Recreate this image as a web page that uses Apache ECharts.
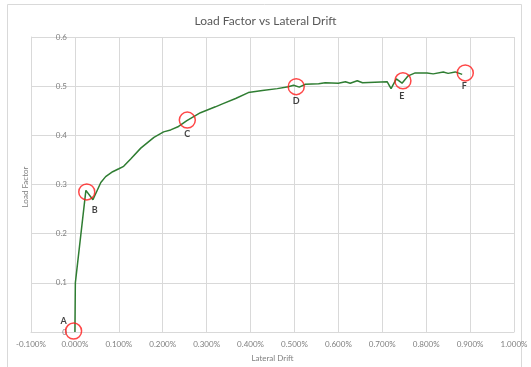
<!DOCTYPE html>
<html>
<head>
<meta charset="utf-8">
<script src="https://cdn.jsdelivr.net/npm/echarts@6/dist/echarts.min.js"></script>
<style>
  html, body { margin: 0; padding: 0; background: #ffffff; }
  #chart { width: 531px; height: 367px; }
</style>
</head>
<body>
<div id="chart"></div>
<script>
// Pushover response: lateral drift (%) against load factor
const drift = [0, 0.001, 0.025, 0.041, 0.059, 0.070, 0.086, 0.100, 0.111, 0.127, 0.150, 0.180,
  0.202, 0.218, 0.236, 0.255, 0.286, 0.320, 0.336, 0.366, 0.395, 0.427, 0.461, 0.486, 0.498,
  0.511, 0.525, 0.555, 0.570, 0.600, 0.616, 0.627, 0.643, 0.655, 0.711, 0.720, 0.732, 0.745,
  0.759, 0.775, 0.802, 0.816, 0.839, 0.850, 0.866, 0.882];
const loadFactor = [0, 0.100, 0.288, 0.269, 0.304, 0.316, 0.326, 0.332, 0.337, 0.352, 0.374, 0.396,
  0.407, 0.411, 0.418, 0.430, 0.446, 0.458, 0.464, 0.475, 0.487, 0.491, 0.495, 0.499, 0.502,
  0.498, 0.504, 0.505, 0.507, 0.506, 0.509, 0.506, 0.511, 0.507, 0.509, 0.495, 0.515, 0.506,
  0.521, 0.527, 0.527, 0.525, 0.529, 0.526, 0.529, 0.524];

// Marked performance points
const pointNames = ['A', 'B', 'C', 'D', 'E', 'F'];
const pointDrift = [-0.003, 0.027, 0.256, 0.504, 0.747, 0.889];
const pointLoad = [0.002, 0.285, 0.431, 0.499, 0.511, 0.527];

// Axis ticks
const xTicks = { min: -0.1, max: 1.0, step: 0.1 };
const yTicks = { min: 0, max: 0.6, step: 0.1 };

// Label offsets for the point letters (pixels)
const labelOffsets = [[-10, -10], [8, 18], [0, 14], [0, 14], [-1, 15], [-1, 13]];

const font = 'Lato, "Noto Sans", sans-serif';
const gridColor = '#d9d9d9';

const curve = drift.map((d, i) => [d, loadFactor[i]]);
const points = pointNames.map((n, i) => ({
  name: n,
  value: [pointDrift[i], pointLoad[i]],
  label: { offset: labelOffsets[i] }
}));

const chart = echarts.init(document.getElementById('chart'), null, { renderer: 'canvas' });
chart.setOption({
  animation: false,
  backgroundColor: '#ffffff',
  title: {
    text: 'Load Factor vs Lateral Drift',
    left: 'center',
    top: 10,
    textStyle: { fontFamily: font, fontSize: 12, fontWeight: 'normal', color: '#595959' }
  },
  graphic: [
    {
      type: 'rect',
      shape: { x: 7.5, y: 4.5, width: 514, height: 370 },
      style: { fill: 'none', stroke: gridColor, lineWidth: 1 },
      silent: true
    },
    {
      type: 'text',
      x: 25,
      y: 187,
      rotation: Math.PI / 2,
      style: {
        text: 'Load Factor',
        fill: '#7f7f7f',
        font: '8px ' + font,
        align: 'center',
        verticalAlign: 'middle'
      }
    }
  ],
  grid: { left: 31, right: 17, top: 37, bottom: 30, containLabel: false },
  xAxis: {
    type: 'value',
    min: xTicks.min,
    max: xTicks.max,
    interval: xTicks.step,
    name: 'Lateral Drift',
    nameLocation: 'middle',
    nameGap: 22,
    nameTextStyle: { fontFamily: font, fontSize: 8, color: '#7f7f7f' },
    axisLine: { show: true, onZero: false, lineStyle: { color: gridColor } },
    axisTick: { show: false },
    splitLine: { show: true, lineStyle: { color: gridColor, width: 1 } },
    axisLabel: {
      fontFamily: font, fontSize: 8, color: '#7f7f7f', margin: 8,
      formatter: v => v.toFixed(3) + '%'
    }
  },
  yAxis: {
    type: 'value',
    min: yTicks.min,
    max: yTicks.max,
    interval: yTicks.step,
    axisLine: { show: true, onZero: false, lineStyle: { color: gridColor } },
    axisTick: { show: false },
    splitLine: { show: true, lineStyle: { color: gridColor, width: 1 } },
    // the value labels sit beside the zero-drift line, inside the plot
    axisLabel: {
      fontFamily: font, fontSize: 8, color: '#7f7f7f', margin: -36,
      formatter: v => (Math.round(v * 10) / 10).toString()
    }
  },
  series: [
    {
      type: 'line',
      data: curve,
      showSymbol: false,
      lineStyle: { color: '#2f7d32', width: 1.5 },
      z: 2
    },
    {
      type: 'scatter',
      data: points,
      symbol: 'circle',
      symbolSize: 16,
      itemStyle: { color: 'rgba(0,0,0,0)', borderColor: '#ff1a1a', borderWidth: 1.5 },
      label: {
        show: true,
        position: 'inside',
        formatter: p => p.name,
        fontFamily: font,
        fontSize: 9,
        fontWeight: 'bold',
        color: '#111111'
      },
      z: 3
    }
  ]
});
</script>
</body>
</html>
